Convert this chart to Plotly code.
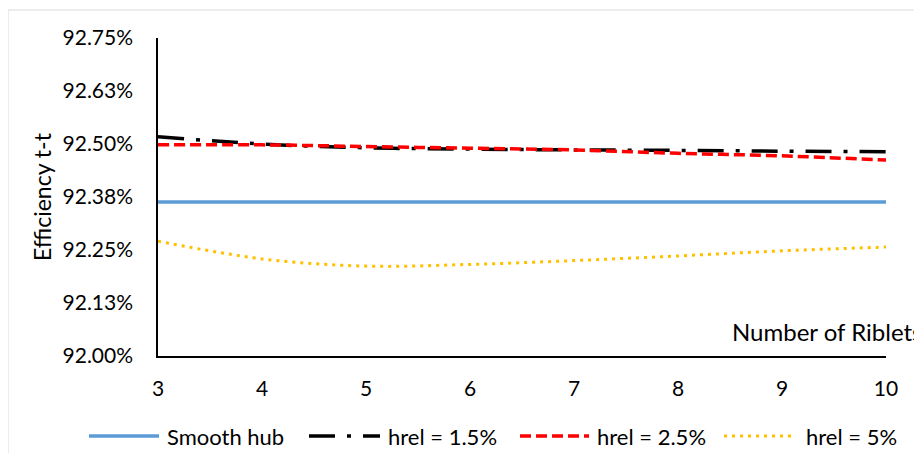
import plotly.graph_objects as go

riblets = [3, 4, 5, 6, 7, 8, 9, 10]
smooth_hub = [92.363, 92.363, 92.363, 92.363, 92.363, 92.363, 92.363, 92.363]
hrel_15 = [92.517, 92.500, 92.491, 92.488, 92.486, 92.485, 92.483, 92.482]
hrel_25 = [92.498, 92.498, 92.494, 92.490, 92.486, 92.478, 92.472, 92.462]
hrel_5 = [92.271, 92.229, 92.212, 92.216, 92.225, 92.236, 92.248, 92.257]

y_tickvals = [92.0, 92.125, 92.25, 92.375, 92.5, 92.625, 92.75]
y_ticktext = ["92.00%", "92.13%", "92.25%", "92.38%", "92.50%", "92.63%", "92.75%"]

series_names = ["Smooth hub", "hrel = 1.5%", "hrel = 2.5%", "hrel = 5%"]
series_colors = ["#5B9BD5", "#000000", "#FF0000", "#FFC000"]
series_dash = ["solid", "26px,12px,4px,12px", "11px,5px", "3px,5px"]
leg_dash = ["solid", "26px,12px,4px,12px", "11px,5px", "3px,5px"]
series_width = [3.5, 3.5, 3.5, 3]
series_values = [smooth_hub, hrel_15, hrel_25, hrel_5]

FONT = "Lato"
W, H = 914, 445
L, R, T, B = 150, 36, 30, 97
pw, ph = W - L - R, H - T - B


def px(x):
    return (x - L) / pw


def py(y):
    return (H - B - y) / ph


fig = go.Figure()
for name, vals, col, dash, wd in zip(series_names, series_values, series_colors, series_dash, series_width):
    fig.add_trace(go.Scatter(x=riblets, y=vals, mode="lines", name=name,
                             line=dict(color=col, width=wd, dash=dash, shape="spline")))

# custom legend (line samples + labels)
leg_y = 428
leg_line_x = [(81, 151), (301, 372), (512, 581), (716, 786)]
leg_text_x = [157, 378, 587, 796]
shapes = [dict(type="rect", xref="paper", yref="paper",
               x0=px(0), x1=px(W + 20), y0=py(H + 20), y1=py(2),
               line=dict(color="#D9D9D9", width=1), fillcolor="rgba(0,0,0,0)", layer="below")]
annotations = [
    dict(text="Number of Riblets", xref="paper", yref="paper", x=px(722), y=py(323),
         xanchor="left", yanchor="middle", showarrow=False, font=dict(size=24)),
    dict(text="Efficiency t-t", xref="paper", yref="paper", x=px(34), y=py(189),
         xanchor="center", yanchor="middle", textangle=-90, showarrow=False, font=dict(size=23)),
]
for (x0, x1), tx, name, col, dash, wd in zip(leg_line_x, leg_text_x, series_names,
                                              series_colors, leg_dash, series_width):
    shapes.append(dict(type="line", xref="paper", yref="paper", x0=px(x0), x1=px(x1),
                       y0=py(leg_y), y1=py(leg_y), line=dict(color=col, width=wd, dash=dash)))
    annotations.append(dict(text=name, xref="paper", yref="paper", x=px(tx), y=py(leg_y),
                            xanchor="left", yanchor="middle", showarrow=False,
                            font=dict(size=22)))

fig.update_layout(
    template="none",
    width=W, height=H,
    margin=dict(l=L, r=R, t=T, b=B, pad=0),
    paper_bgcolor="white", plot_bgcolor="white",
    font=dict(family=FONT, size=21, color="#000000"),
    showlegend=False,
    xaxis=dict(range=[3, 10], tickvals=riblets, showgrid=False, zeroline=False,
               showline=True, linecolor="#000000", linewidth=1.5, ticks="",
               ticklabelstandoff=13, tickfont=dict(size=21), automargin=False),
    yaxis=dict(range=[92.0, 92.75], tickvals=y_tickvals, ticktext=y_ticktext,
               showgrid=False, zeroline=False, showline=True, linecolor="#000000",
               linewidth=1.5, ticks="", ticklabelstandoff=19, tickfont=dict(size=21),
               automargin=False),
    annotations=annotations,
    shapes=shapes,
)

fig.write_html("out.html")
